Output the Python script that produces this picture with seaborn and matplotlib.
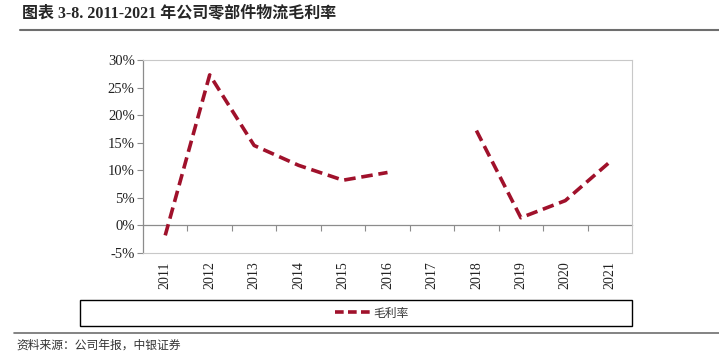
import numpy as np
import pandas as pd
import matplotlib
matplotlib.use("Agg")
import matplotlib.pyplot as plt
import seaborn as sns
from matplotlib.patches import Rectangle
from matplotlib.lines import Line2D

years = [2011, 2012, 2013, 2014, 2015, 2016, 2017, 2018, 2019, 2020, 2021]
margin = [-1.8, 27.3, 14.5, 10.9, 8.2, 9.6, np.nan, 17.2, 1.4, 4.5, 11.5]
series_name = "毛利率"
title = "图表 3-8. 2011-2021 年公司零部件物流毛利率"
source = "资料来源：公司年报，中银证券"
y_ticks = [-5, 0, 5, 10, 15, 20, 25, 30]

sns.set_theme(style="white")
plt.rcParams['font.family'] = ['Liberation Serif', 'Noto Sans CJK SC', 'DejaVu Sans']

RED = "#A0112B"
GRAY = "#8C8C8C"

df = pd.DataFrame({"year": years, "val": margin})
# segment id so gaps break the line
df["seg"] = df["val"].isna().cumsum()
df = df.dropna()

fig = plt.figure(figsize=(7.19, 3.59), dpi=100)
ax = fig.add_axes([143/719, 1-253/359, (632-143)/719, (253-60)/359])

sns.lineplot(data=df, x="year", y="val", units="seg", estimator=None,
             color=RED, lw=2.6, ax=ax, legend=False)
for l in ax.get_lines():
    l.set_dashes([3.2, 1.6])
    l.set_dash_capstyle("butt")

ax.set_xlim(2010.5, 2021.5)
ax.set_ylim(-5, 30)
ax.set_yticks(y_ticks)
ax.set_yticklabels([f"{v}%" for v in y_ticks], fontsize=10.5, color="#222222")
ax.set_xticks(years)
ax.set_xticklabels([str(y) for y in years], rotation=90, fontsize=10, color="#222222")
ax.tick_params(axis="x", length=0, pad=6)
ax.tick_params(axis="y", direction="out", length=4, width=0.8, color=GRAY, pad=2, left=True)
ax.set_xlabel("")
ax.set_ylabel("")
for s in ["top", "right", "bottom"]:
    ax.spines[s].set_color("#C8C8C8")
    ax.spines[s].set_linewidth(0.8)
ax.spines["left"].set_color(GRAY)
ax.spines["left"].set_linewidth(0.9)

# zero axis with category boundary ticks
sec = ax.secondary_xaxis(5/35)
sec.set_xticks([y + 0.5 for y in years[:-1]])
sec.set_xticklabels([])
sec.tick_params(direction="out", length=4, width=0.8, color=GRAY)
sec.spines["bottom"].set_color(GRAY)
sec.spines["bottom"].set_linewidth(0.9)

# legend box
fig.patches.append(Rectangle((80/719, 1-326/359), (632-80)/719, 26/359,
                             transform=fig.transFigure, fill=False,
                             edgecolor="black", lw=1.0))
h = Line2D([], [], color=RED, lw=2.6, dashes=[2.4, 1.2])
fig.legend([h], [series_name], loc="center", bbox_to_anchor=(372/719, 1-313/359),
           frameon=False, prop={'family': ['Noto Sans CJK SC'], 'size': 8.5},
           handlelength=3.0, handletextpad=0.2, labelcolor="#333333")

# title and rules
fig.text(22/719, 1-13/359, title, fontsize=11.5, fontweight="bold", va="center", ha="left",
         family=['Liberation Serif', 'Noto Sans CJK SC'])
fig.add_artist(Line2D([20/719, 1], [1-30/359, 1-30/359], transform=fig.transFigure,
                      color="#6E6E6E", lw=1.5))
fig.add_artist(Line2D([14/719, 1], [1-333/359, 1-333/359], transform=fig.transFigure,
                      color="#6E6E6E", lw=1.2))
fig.text(16/719, 1-345/359, source, fontsize=8.5, style="italic", va="center", ha="left",
         family=['Noto Sans CJK SC'], color="#333333")

fig.savefig("out.png", dpi=100)
